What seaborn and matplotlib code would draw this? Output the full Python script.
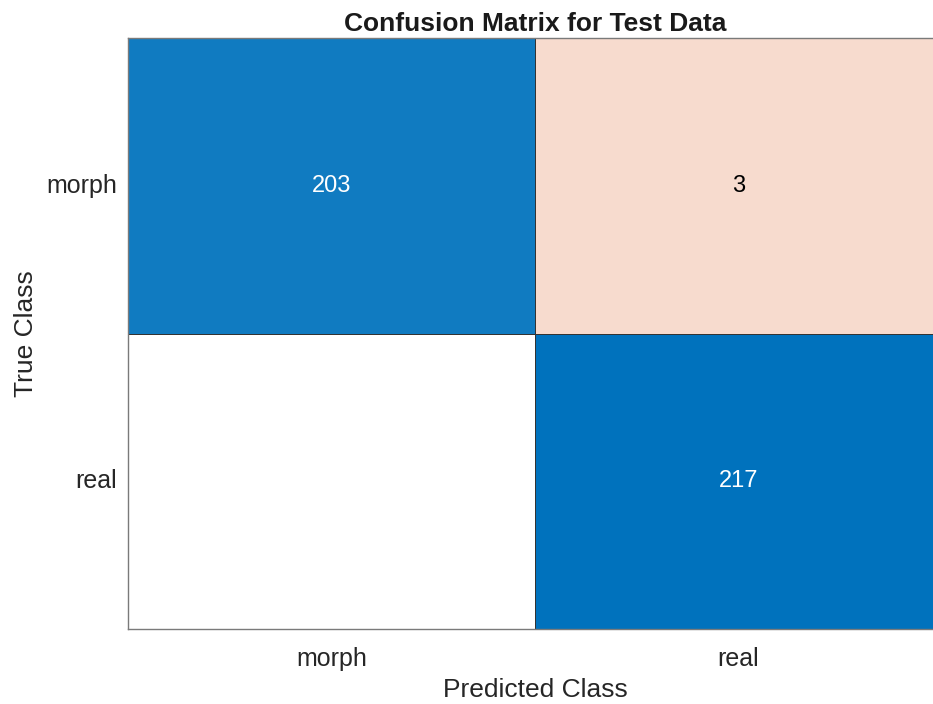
import numpy as np
import pandas as pd
import matplotlib
matplotlib.use("Agg")
import matplotlib.pyplot as plt
import seaborn as sns
from matplotlib.colors import LinearSegmentedColormap

classes = ["morph", "real"]
counts = [[203, 3],
          [0, 217]]

sns.set_theme(style="white")
plt.rcParams["font.family"] = ["Liberation Sans", "DejaVu Sans"]

cm = pd.DataFrame(counts, index=classes, columns=classes)
diag = np.eye(len(classes), dtype=bool)

blue_cmap = LinearSegmentedColormap.from_list("diag", ["#ffffff", "#0072bd"])
red_cmap = LinearSegmentedColormap.from_list("off", ["#ffffff", "#d95319"])

fig = plt.figure(figsize=(9.33, 7.04), dpi=100)
ax = fig.add_axes([0.1372, 0.1065, 0.8725, 0.8395])

# diagonal cells (correct) in blue, off-diagonal (errors) in red shades
sns.heatmap(cm, mask=~diag, cmap=blue_cmap, vmin=0, vmax=cm.values.max(),
            cbar=False, linewidths=0.7, linecolor="#333333", ax=ax)
sns.heatmap(cm, mask=diag, cmap=red_cmap, vmin=0, vmax=14,
            cbar=False, linewidths=0.7, linecolor="#333333", ax=ax)

for i in range(len(classes)):
    for j in range(len(classes)):
        v = cm.values[i, j]
        if v == 0:
            continue
        ax.text(j + 0.5, i + 0.5, str(v), ha="center", va="center",
                fontsize=17, color="white" if i == j else "black")

for side in ["left", "right", "top", "bottom"]:
    ax.spines[side].set_visible(True)
    ax.spines[side].set_color("#7a7a7a")
    ax.spines[side].set_linewidth(1.0)

ax.tick_params(axis="x", length=0, labelsize=18, pad=13, colors="#262626")
ax.tick_params(axis="y", length=0, labelsize=18, pad=8, colors="#262626")
ax.set_xticklabels(classes, rotation=0)
ax.set_yticklabels(classes, rotation=0)
ax.set_xlabel("Predicted Class", fontsize=19, color="#262626", labelpad=5)
ax.set_ylabel("True Class", fontsize=19, color="#262626", labelpad=6)
ax.set_title("Confusion Matrix for Test Data", fontsize=19, fontweight="bold",
             color="#1a1a1a", pad=5)

fig.savefig("out.png", dpi=100)
